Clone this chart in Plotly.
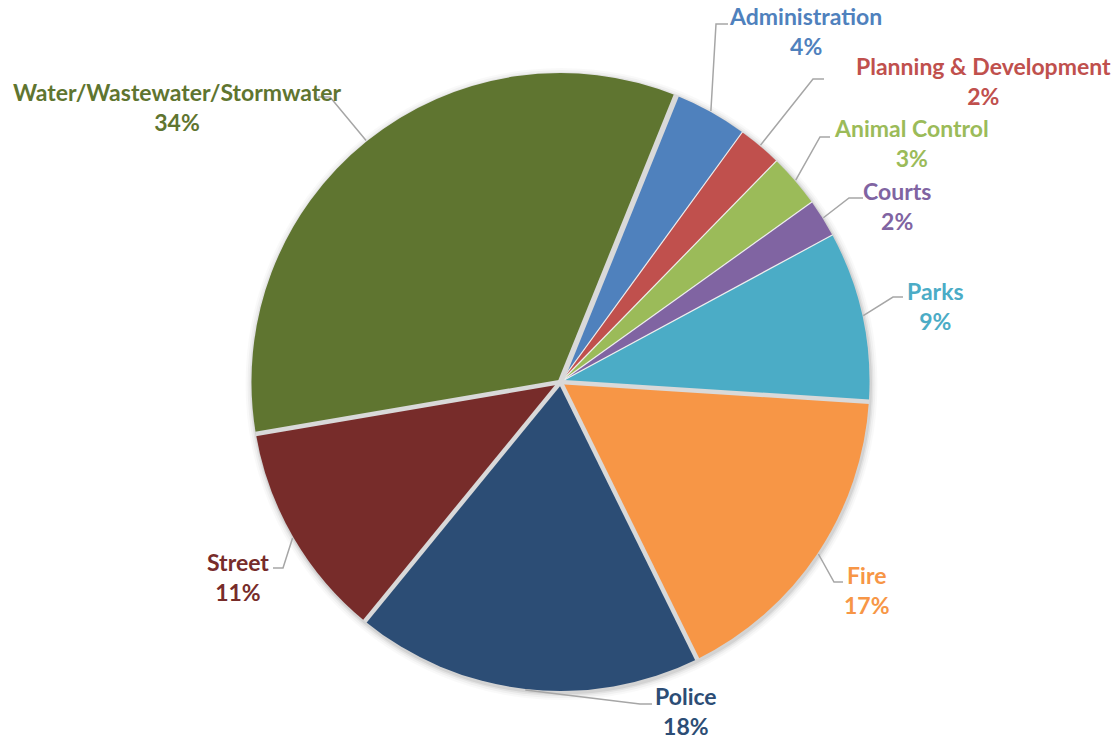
import math
import plotly.graph_objects as go

# ---- data ----
departments = ["Administration", "Planning & Development", "Animal Control", "Courts",
               "Parks", "Fire", "Police", "Street", "Water/Wastewater/Stormwater"]
shares = [3.9, 2.3, 2.8, 2.0, 8.9, 16.7, 18.2, 11.4, 33.8]

# ---- styling ----
colors = ["#4f81bd", "#c0504d", "#9bbb59", "#8064a2", "#4bacc6",
          "#f79646", "#2c4d75", "#772c2a", "#5f7530"]
# separator drawn at the END of each slice (clockwise)
sep_w = [1.2, 1.2, 1.2, 1.2, 4.5, 4.5, 4.5, 4.5, 5.5]
sep_c = ["#eeeeee", "#eeeeee", "#eeeeee", "#eeeeee", "#d9d9d9",
         "#d9d9d9", "#d9d9d9", "#d9d9d9", "#d9d9d9"]

W, H = 1118, 740
CX, CY, R = 560.5, 382.0, 309.0
ROT = 22

# label block centres (px) and leader-line elbow/end points (px)
label_pos = [(806, 31), (983, 81), (911, 143), (897, 206), (935, 306),
             (867, 590), (686, 711), (238, 577), (177, 107)]
elbow = [(716, 24), (813, 79), (820, 137), (849, 198), (893, 297),
         (834, 582), (640, 704), (283, 568), (330, 97)]
elbow_end = [(728, 24), (824, 79), (830, 137), (863, 198), (903, 297),
             (843, 582), (652, 704), (273, 568), (318, 97)]

def px(x):
    return x / W

def py(y):
    return 1 - y / H

fig = go.Figure()
fig.add_trace(go.Pie(
    labels=departments, values=shares, sort=False, direction="clockwise",
    rotation=ROT, textinfo="none", hoverinfo="label+percent",
    marker=dict(colors=colors, line=dict(width=0)),
    domain=dict(x=[px(CX - R), px(CX + R)], y=[py(CY + R), py(CY - R)]),
    showlegend=False,
))

total = sum(shares)
shapes = []
annotations = []

# soft shadow behind the pie
for grow, alpha in [(7, 0.025), (5, 0.035), (3, 0.05), (1.5, 0.07)]:
    rr = R + grow
    shapes.append(dict(type="circle", xref="paper", yref="paper", layer="below",
                       x0=px(CX + 1 - rr), x1=px(CX + 1 + rr),
                       y0=py(CY + 2 + rr), y1=py(CY + 2 - rr),
                       fillcolor=f"rgba(0,0,0,{alpha})", line=dict(width=0)))

cum = 0.0
for i, (name, v) in enumerate(zip(departments, shares)):
    mid = ROT + (cum + v / 2) / total * 360
    cum += v
    end = ROT + cum / total * 360
    # separator line at slice end
    b = math.radians(end)
    shapes.append(dict(type="line", xref="paper", yref="paper",
                       x0=px(CX), y0=py(CY),
                       x1=px(CX + (R + 0.5) * math.sin(b)), y1=py(CY - (R + 0.5) * math.cos(b)),
                       line=dict(color=sep_c[i], width=sep_w[i])))
    # leader line
    a = math.radians(mid)
    tx = CX + (R + 1) * math.sin(a)
    ty = CY - (R + 1) * math.cos(a)
    ex, ey = elbow[i]
    fx, fy = elbow_end[i]
    path = f"M {px(tx)} {py(ty)} L {px(ex)} {py(ey)} L {px(fx)} {py(fy)}"
    shapes.append(dict(type="path", xref="paper", yref="paper", path=path,
                       line=dict(color="#a6a6a6", width=1.5)))
    lx, ly = label_pos[i]
    annotations.append(dict(
        x=px(lx), y=py(ly), xref="paper", yref="paper",
        text=f"{name}<br>{round(v / total * 100)}%", showarrow=False,
        xanchor="center", yanchor="middle", align="center",
        font=dict(family="Lato", size=23, color=colors[i], weight="bold"),
    ))

fig.update_layout(
    width=W, height=H, margin=dict(l=0, r=0, t=0, b=0),
    paper_bgcolor="white", plot_bgcolor="white",
    shapes=shapes, annotations=annotations,
)

fig.write_html("out.html")
